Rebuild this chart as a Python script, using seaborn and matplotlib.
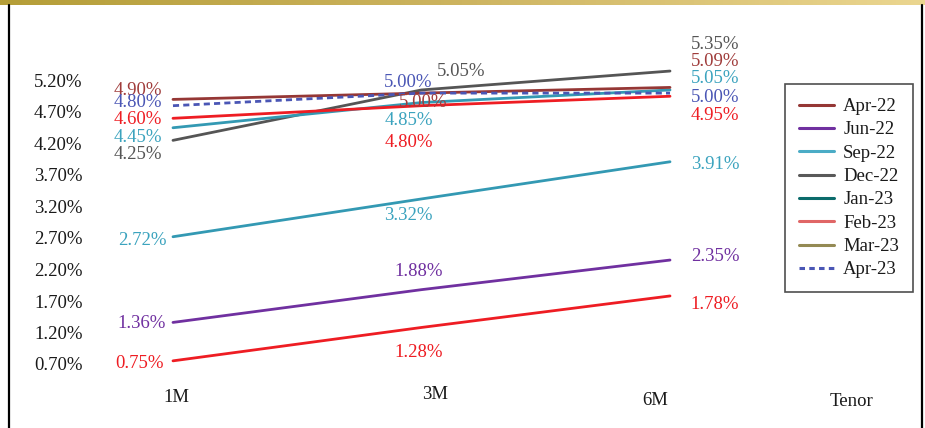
import numpy as np
import pandas as pd
import matplotlib
matplotlib.use("Agg")
import matplotlib.pyplot as plt
import matplotlib.transforms as mtransforms
from matplotlib.lines import Line2D
import seaborn as sns

# ---- data -------------------------------------------------------------
tenors = ["1M", "3M", "6M"]
months = ["Apr-22", "Jun-22", "Sep-22", "Dec-22", "Jan-23", "Feb-23", "Mar-23", "Apr-23"]

apr22 = [0.75, 1.28, 1.78]
jun22 = [1.36, 1.88, 2.35]
sep22 = [2.72, 3.32, 3.91]
dec22 = [4.25, 5.05, 5.35]
jan23 = [4.45, 4.85, 5.05]
feb23 = [4.60, 4.80, 4.95]
mar23 = [4.90, 5.00, 5.09]
apr23 = [4.80, 5.00, 5.00]

y_ticks = [0.70, 1.20, 1.70, 2.20, 2.70, 3.20, 3.70, 4.20, 4.70, 5.20]

series = dict(zip(months, [apr22, jun22, sep22, dec22, jan23, feb23, mar23, apr23]))

df = pd.DataFrame(
    [(m, i, v) for m, vals in series.items() for i, v in enumerate(vals)],
    columns=["month", "pos", "rate"],
)

# ---- styling ----------------------------------------------------------
line_colors = {
    "Apr-22": "#EE1D23",
    "Jun-22": "#7030A0",
    "Sep-22": "#3399B3",
    "Dec-22": "#555555",
    "Jan-23": "#3399B3",
    "Feb-23": "#EE1D23",
    "Mar-23": "#953735",
    "Apr-23": "#4A56B5",
}
text_colors = {
    "Apr-22": "#EE1D23",
    "Jun-22": "#7030A0",
    "Sep-22": "#3BA3BE",
    "Dec-22": "#555555",
    "Jan-23": "#3BA3BE",
    "Feb-23": "#EE1D23",
    "Mar-23": "#A03C3B",
    "Apr-23": "#4A56B5",
}
legend_colors = {
    "Apr-22": "#953735",
    "Jun-22": "#7030A0",
    "Sep-22": "#4BACC6",
    "Dec-22": "#595959",
    "Jan-23": "#0B6B6B",
    "Feb-23": "#E06666",
    "Mar-23": "#948A54",
    "Apr-23": "#4A56B5",
}

# label offsets in pixels (dx, dy with dy pointing down) for 1M, 3M, 6M
label_offsets = {
    "Apr-22": [(-33, 3), (-3, 25), (45, 9)],
    "Jun-22": [(-31, 1), (-3, -18), (45, -4)],
    "Sep-22": [(-31, 4), (-13, 17), (45, 3)],
    "Dec-22": [(-35, 14), (40, -18), (45, -27)],
    "Jan-23": [(-35, 10), (-13, 18), (45, -11)],
    "Feb-23": [(-35, 1), (-13, 37), (45, 19)],
    "Mar-23": [(-35, -9), (2, 9), (45, -26)],
    "Apr-23": [(-35, -3), (-13, -11), (45, 4)],
}

sns.set_theme(style="white")
plt.rcParams["font.family"] = ["Liberation Serif", "DejaVu Serif"]
FS = 13.5

fig = plt.figure(figsize=(9.25, 4.28), dpi=100)
ax = fig.add_axes([86 / 925, (428 - 373.45) / 428, 671 / 925, 315 / 428])

sns.lineplot(
    data=df, x="pos", y="rate", hue="month", hue_order=months,
    palette=line_colors, style="month", style_order=months,
    dashes={m: ((2.2, 1.5) if m == "Apr-23" else "") for m in months},
    linewidth=2.0, legend=False, ax=ax, sort=False,
)

for m, vals in series.items():
    for i, v in enumerate(vals):
        dx, dy = label_offsets[m][i]
        ax.annotate(f"{v:.2f}%", xy=(i, v), xytext=(dx, -dy),
                    textcoords="offset pixels", ha="center", va="center",
                    fontsize=FS, color=text_colors[m], annotation_clip=False)

ax.set_xlim(-0.35, 2.35)
ax.set_ylim(0.55, 5.55)
ax.set_yticks(y_ticks)
ax.set_yticklabels([f"{t:.2f}%" for t in y_ticks])
ax.set_xticks(range(len(tenors)))
ax.set_xticklabels(tenors)
ax.tick_params(axis="both", length=0, labelsize=FS, colors="#1a1a1a")
ax.tick_params(axis="y", pad=2.5)
ax.tick_params(axis="x", pad=11.5)
ax.set_xlabel("")
ax.set_ylabel("")
for s in ax.spines.values():
    s.set_visible(False)
ax.grid(False)

# stagger the tenor labels slightly
tick_shift = [(3, 0), (14, 3), (-15, -3)]
for lab, (sx, sy) in zip(ax.get_xticklabels(), tick_shift):
    lab.set_transform(lab.get_transform() +
                      mtransforms.ScaledTranslation(sx / 100, sy / 100, fig.dpi_scale_trans))

fig.text(852 / 925, 1 - 401 / 428, "Tenor", ha="center", va="center",
         fontsize=FS, color="#1a1a1a")

# legend
handles = [
    Line2D([0], [0], color=legend_colors[m], lw=2.2,
           linestyle=((0, (1.8, 1.4)) if m == "Apr-23" else "-"))
    for m in months
]
leg = fig.legend(handles, months, loc="upper left",
                 bbox_to_anchor=(785 / 925, 1 - 84 / 428),
                 frameon=True, fancybox=False, fontsize=FS,
                 handlelength=1.85, handletextpad=0.5, labelspacing=0.33,
                 borderpad=0.75, borderaxespad=0)
leg.get_frame().set_edgecolor("#222222")
leg.get_frame().set_linewidth(1.2)
for t in leg.get_texts():
    t.set_color("#1a1a1a")

# gold header strip
strip = fig.add_axes([0, 1 - 5 / 428, 1, 5 / 428])
grad = np.linspace(0, 1, 256).reshape(1, -1)
gold = matplotlib.colors.LinearSegmentedColormap.from_list(
    "gold", ["#B59E38", "#CDB460", "#EBD690"])
strip.imshow(grad, aspect="auto", cmap=gold, extent=(0, 1, 0, 1))
strip.set_axis_off()

# side borders
for xb in (8.5 / 925, 921.5 / 925):
    fig.add_artist(Line2D([xb, xb], [0, 1 - 5 / 428], transform=fig.transFigure,
                          color="black", lw=1.6))

fig.savefig("out.png", dpi=100, facecolor="white")
